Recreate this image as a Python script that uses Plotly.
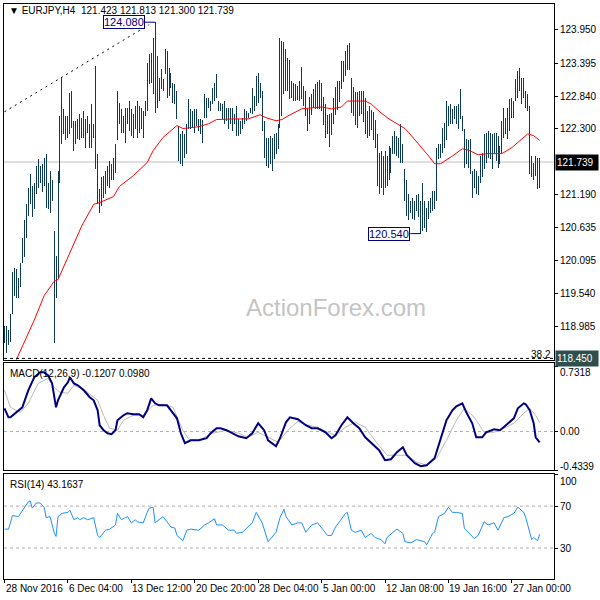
import plotly.graph_objects as go

# ---------------- data (EURJPY H4, bar index 0 = 28 Nov 2016 20:00) ----------------
bar_high = [
    118.99, 118.99, 118.92, 119.20, 119.89, 119.97, 119.95, 119.80, 120.04, 120.47,
    120.76, 121.04, 121.31, 121.54, 121.34, 121.39, 121.68, 121.79, 121.68, 121.71,
    121.81, 121.88, 121.39, 121.59, 121.43, 120.59, 120.17, 121.59, 122.51, 123.15,
    122.63, 122.51, 122.51, 122.90, 122.93, 122.43, 122.43, 122.46, 122.55, 122.48,
    122.60, 122.46, 122.51, 122.38, 122.71, 122.38, 123.35, 121.88, 121.29, 121.48,
    121.51, 121.59, 121.68, 121.76, 121.71, 121.81, 122.04, 122.93, 122.73, 122.63,
    122.51, 122.65, 122.65, 122.76, 122.63, 122.55, 122.68, 122.76, 122.68, 122.65,
    122.60, 122.76, 123.40, 123.55, 123.56, 123.82, 124.08, 123.52, 123.15, 123.30,
    123.13, 123.63, 123.60, 123.31, 123.23, 123.06, 123.05, 122.93, 122.35, 122.21,
    122.26, 122.21, 122.38, 122.80, 122.63, 122.60, 122.63, 122.63, 122.46, 122.46,
    122.45, 122.88, 122.81, 122.81, 122.76, 122.98, 123.06, 123.21, 122.76, 122.73,
    122.71, 122.76, 122.65, 122.65, 122.65, 122.65, 122.55, 122.68, 122.46, 122.43,
    122.48, 122.63, 122.60, 122.56, 122.65, 122.98, 122.85, 123.18, 123.23, 123.06,
    122.93, 122.43, 122.14, 122.14, 122.18, 122.14, 122.21, 122.23, 122.38, 123.82,
    123.77, 123.75, 123.63, 123.48, 123.45, 123.10, 123.06, 123.05, 123.01, 123.10,
    123.33, 123.01, 122.93, 122.63, 122.83, 122.88, 122.96, 123.05, 123.08, 123.11,
    123.06, 122.83, 122.71, 122.53, 122.55, 122.56, 122.81, 123.00, 123.10, 123.10,
    123.43, 123.43, 123.60, 123.70, 123.73, 123.15, 123.00, 122.91, 122.91, 122.93,
    122.93, 122.93, 122.81, 122.60, 122.68, 122.61, 122.58, 122.45, 122.21, 121.89,
    121.93, 121.84, 121.93, 121.84, 122.01, 121.98, 122.18, 122.26, 122.18, 122.14,
    122.38, 122.04, 121.63, 121.43, 121.21, 121.09, 121.13, 121.09, 121.18, 121.21,
    121.09, 121.39, 121.09, 120.97, 121.09, 121.14, 121.26, 121.26, 121.98, 122.04,
    122.04, 122.31, 122.40, 122.76, 122.68, 122.71, 122.63, 122.68, 122.68, 122.71,
    122.96, 122.51, 122.29, 122.13, 122.10, 122.13, 121.59, 121.63, 121.59, 121.51,
    121.84, 121.89, 122.21, 122.23, 122.26, 122.23, 122.21, 122.23, 122.23, 122.18,
    122.01, 122.43, 122.65, 122.48, 122.65, 122.80, 122.81, 122.76, 123.13, 123.26,
    123.31, 123.15, 123.15, 122.93, 122.88, 122.68, 121.84, 121.73, 121.84, 121.81,
    121.813,
]
bar_low = [
    118.70, 118.54, 118.67, 118.72, 119.20, 119.50, 119.47, 119.47, 119.64, 120.04,
    120.14, 120.47, 120.84, 121.04, 120.81, 120.96, 121.21, 121.31, 121.38, 121.23,
    121.34, 120.97, 120.96, 120.88, 121.09, 118.70, 119.47, 119.80, 121.39, 122.04,
    122.21, 122.10, 122.14, 122.21, 122.31, 121.93, 122.04, 122.13, 122.10, 122.14,
    122.14, 121.98, 122.23, 121.98, 121.98, 122.14, 121.63, 121.04, 120.89, 121.01,
    121.14, 121.21, 121.34, 121.31, 121.43, 121.43, 121.56, 122.10, 122.38, 122.23,
    122.23, 122.06, 122.38, 122.26, 122.18, 122.14, 122.29, 122.14, 122.23, 122.29,
    122.14, 122.51, 122.60, 123.05, 123.06, 122.88, 122.56, 122.65, 122.76, 122.96,
    122.93, 123.21, 122.81, 122.85, 122.98, 122.73, 122.71, 122.46, 121.76, 121.71,
    121.68, 121.81, 121.88, 122.29, 122.29, 122.31, 122.23, 122.35, 122.26, 122.21,
    122.06, 122.48, 122.48, 122.65, 122.60, 122.71, 122.76, 122.81, 122.60, 122.60,
    122.46, 122.38, 122.43, 122.29, 122.38, 122.26, 122.38, 122.18, 122.18, 122.21,
    122.29, 122.38, 122.43, 122.48, 122.56, 122.55, 122.60, 122.68, 122.73, 122.81,
    122.26, 121.81, 121.68, 121.64, 121.71, 121.59, 121.79, 121.88, 121.96, 122.31,
    122.51, 122.88, 122.93, 122.93, 122.80, 122.81, 122.76, 122.76, 122.78, 122.76,
    122.80, 122.68, 122.51, 122.26, 122.38, 122.53, 122.65, 122.63, 122.63, 122.63,
    122.60, 122.36, 122.14, 122.21, 121.99, 122.19, 122.38, 122.53, 122.61, 122.75,
    122.96, 123.08, 123.18, 123.28, 123.28, 122.56, 122.51, 122.36, 122.31, 122.51,
    122.55, 122.41, 122.21, 122.14, 122.18, 122.28, 122.11, 121.98, 121.34, 121.21,
    121.31, 121.18, 121.31, 121.34, 121.43, 121.56, 121.88, 121.88, 121.84, 121.81,
    121.73, 121.73, 121.09, 120.84, 120.76, 120.88, 120.79, 120.76, 120.92, 120.81,
    120.54, 120.59, 120.64, 120.56, 120.79, 120.88, 120.92, 120.96, 121.09, 121.79,
    121.81, 121.89, 121.98, 122.10, 122.35, 122.38, 122.38, 122.46, 122.38, 122.29,
    122.46, 122.26, 121.64, 121.71, 121.64, 121.54, 121.13, 121.31, 121.21, 121.18,
    121.38, 121.48, 121.63, 121.73, 121.81, 121.79, 121.63, 121.88, 121.76, 121.64,
    121.71, 121.89, 122.14, 122.21, 122.13, 122.26, 122.48, 122.48, 122.76, 122.81,
    122.93, 122.71, 122.81, 122.65, 122.60, 121.54, 121.48, 121.43, 121.51, 121.29,
    121.300,
]
last_open = 121.423
last_close = 121.739

ma_idx = [6, 12, 15, 20, 25, 27, 32, 39, 45, 48, 55, 58, 65, 72, 75, 80, 87, 90, 93, 98,
          103, 107, 115, 123, 129, 132, 137, 140, 143, 150, 160, 165, 170, 173, 182, 185, 190, 194, 198, 202,
          204, 209, 214, 217, 220, 226, 231, 234, 239, 244, 251, 256, 261, 264, 267, 270]
ma_val = [118.43, 118.87, 119.09, 119.50, 119.74, 119.77, 120.14, 120.67, 121.03, 121.06,
          121.16, 121.33, 121.51, 121.73, 121.93, 122.15, 122.35, 122.30, 122.31, 122.33,
          122.38, 122.45, 122.46, 122.46, 122.53, 122.48, 122.43, 122.45, 122.51, 122.63,
          122.66, 122.63, 122.66, 122.76, 122.76, 122.71, 122.56, 122.46, 122.38, 122.30,
          122.23, 122.04, 121.84, 121.71, 121.71, 121.84, 121.96, 121.94, 121.86, 121.88,
          121.88, 121.98, 122.13, 122.21, 122.18, 122.10]

trend_idx = [0, 73]
trend_val = [122.58, 124.04]

high_label = 124.080
high_label_idx = 76
low_label = 120.540
low_label_idx = 210
fib_level = 118.450
fib_text = "38.2"

macd_idx = [0, 2, 3, 6, 7, 9, 12, 15, 18, 20, 22, 24, 26, 27, 30, 32, 33, 35, 37, 40,
            43, 45, 47, 48, 50, 52, 54, 56, 57, 60, 62, 65, 68, 70, 72, 74, 76, 78, 82, 84,
            87, 89, 91, 94, 98, 102, 104, 107, 109, 112, 115, 118, 122, 125, 128, 131, 133, 137, 139, 142,
            144, 148, 152, 155, 158, 162, 165, 167, 170, 173, 176, 179, 182, 185, 189, 192, 195, 198, 201, 203,
            207, 210, 213, 217, 220, 223, 226, 228, 231, 233, 236, 238, 241, 243, 247, 250, 253, 257, 259, 262,
            263, 265, 267, 268, 270]
macd_val = [0.261, 0.160, 0.160, 0.216, 0.239, 0.272, 0.463, 0.609, 0.665, 0.665,
            0.631, 0.541, 0.272, 0.351, 0.497, 0.553, 0.609, 0.541, 0.519, 0.463,
            0.385, 0.351, 0.239, 0.071, 0.015, -0.019, -0.030, 0.015, 0.127, 0.183,
            0.206, 0.194, 0.194, 0.160, 0.239, 0.373, 0.317, 0.295, 0.295, 0.239,
            0.149, -0.019, -0.131, -0.098, -0.098, -0.075, -0.019, 0.037, 0.037, 0.015,
            -0.019, -0.053, -0.075, -0.019, 0.093, 0.015, -0.098, -0.165, -0.075, 0.104,
            0.160, 0.138, 0.071, 0.037, 0.037, -0.008, -0.075, -0.041, 0.071, 0.160,
            0.093, 0.037, -0.064, -0.131, -0.210, -0.322, -0.311, -0.232, -0.176, -0.266,
            -0.355, -0.389, -0.378, -0.299, -0.098, 0.127, 0.239, 0.284, 0.317, 0.216,
            0.093, -0.064, -0.064, -0.008, 0.026, 0.015, 0.071, 0.149, 0.261, 0.317,
            0.306, 0.239, 0.093, -0.064, -0.1207]
sig_idx = [0, 3, 8, 12, 17, 22, 25, 28, 32, 35, 40, 47, 50, 53, 57, 60, 65, 70, 75, 80,
           85, 90, 93, 98, 105, 112, 118, 123, 128, 133, 138, 143, 148, 153, 158, 163, 167, 172, 177, 182,
           188, 193, 198, 203, 208, 213, 218, 223, 228, 232, 237, 242, 247, 252, 257, 262, 265, 268, 270]
sig_val = [0.463, 0.272, 0.216, 0.317, 0.541, 0.597, 0.497, 0.441, 0.430, 0.519,
           0.474, 0.351, 0.183, 0.037, 0.015, 0.127, 0.183, 0.183, 0.295, 0.306,
           0.272, 0.015, -0.086, -0.098, -0.019, 0.015, -0.019, -0.064, -0.008, -0.064,
           -0.120, 0.015, 0.115, 0.071, 0.048, -0.008, -0.041, 0.048, 0.104, 0.048,
           -0.131, -0.266, -0.266, -0.266, -0.344, -0.378, -0.299, -0.098, 0.127, 0.261,
           0.160, -0.008, -0.008, 0.037, 0.093, 0.206, 0.261, 0.183, 0.0980]
macd_top, macd_bottom = 0.7318, -0.4339

rsi_idx = [0, 2, 3, 4, 7, 9, 12, 13, 14, 16, 18, 20, 21, 23, 25, 26, 27, 29, 32, 33,
           35, 37, 38, 40, 42, 45, 47, 48, 51, 53, 56, 57, 59, 61, 62, 64, 66, 67, 70, 72,
           73, 75, 76, 78, 80, 82, 84, 86, 87, 90, 92, 94, 98, 101, 103, 106, 107, 110, 113, 116,
           117, 120, 122, 125, 127, 130, 133, 135, 137, 139, 141, 142, 145, 148, 150, 152, 155, 158, 160, 162,
           163, 165, 167, 169, 172, 173, 175, 177, 180, 182, 185, 187, 190, 192, 193, 196, 198, 201, 202, 205,
           208, 212, 213, 216, 217, 219, 222, 224, 226, 228, 231, 232, 234, 237, 239, 242, 244, 247, 249, 252,
           254, 257, 259, 262, 263, 265, 266, 267, 269, 270]
rsi_val = [48, 48, 54, 61, 60, 66, 74, 75, 68, 73, 73, 69, 59, 60, 45, 41, 60, 63, 64, 66,
           57, 59, 57, 59, 57, 59, 42, 40, 47, 48, 52, 63, 57, 59, 60, 54, 57, 55, 54, 64,
           68, 69, 54, 57, 60, 55, 50, 49, 42, 37, 47, 48, 47, 52, 54, 58, 52, 52, 47, 47,
           44, 45, 49, 54, 64, 54, 36, 40, 45, 59, 67, 60, 52, 54, 54, 45, 52, 54, 49, 45,
           42, 42, 50, 55, 63, 64, 47, 45, 47, 40, 44, 40, 38, 34, 40, 45, 48, 44, 36, 35,
           38, 36, 33, 44, 45, 60, 63, 69, 64, 64, 63, 49, 45, 39, 42, 55, 52, 54, 47, 59,
           60, 63, 69, 64, 59, 45, 38, 40, 37, 43.1637]
rsi_levels = [70, 30]

price_ticks = [123.950, 123.395, 122.840, 122.300, 121.190, 120.635, 120.095, 119.540, 118.985]

date_idx = [0, 32, 64, 96, 128, 160, 192, 224, 256]
date_text = ["28 Nov 2016", "6 Dec 04:00", "13 Dec 12:00", "20 Dec 20:00", "28 Dec 04:00",
             "5 Jan 00:00", "12 Jan 08:00", "19 Jan 16:00", "27 Jan 00:00"]

# ---------------- styling / layout helpers ----------------
W, H = 600, 600
ML, MR, MT, MB = 3, 42, 3, 21
PW, PH = W - ML - MR, H - MT - MB
FONT = "Liberation Sans, Arial, sans-serif"
BAR = "#0d3a55"


def px(xp):
    return (xp - ML) / PW


def py(yp):
    return (H - MB - yp) / PH


bx, by = [], []
for i, (h, l) in enumerate(zip(bar_high, bar_low)):
    bx += [i, i, None]
    by += [l, h, None]

fig = go.Figure()
fig.add_trace(go.Scatter(x=bx, y=by, mode="lines", line=dict(color=BAR, width=1),
                         xaxis="x", yaxis="y", hoverinfo="skip"))
fig.add_trace(go.Scatter(x=ma_idx, y=ma_val, mode="lines", line=dict(color="#ff0000", width=1),
                         xaxis="x", yaxis="y"))
fig.add_trace(go.Scatter(x=trend_idx, y=trend_val, mode="lines",
                         line=dict(color="#000000", width=1, dash="2px,4px"), xaxis="x", yaxis="y"))
fig.add_trace(go.Scatter(x=sig_idx, y=sig_val, mode="lines", line=dict(color="#b8b8b8", width=1),
                         xaxis="x2", yaxis="y2"))
fig.add_trace(go.Scatter(x=macd_idx, y=macd_val, mode="lines", line=dict(color="#000080", width=2),
                         xaxis="x2", yaxis="y2"))
fig.add_trace(go.Scatter(x=rsi_idx, y=rsi_val, mode="lines", line=dict(color="#1e90ff", width=1),
                         xaxis="x3", yaxis="y3"))

xr = [-0.25, 277.25]
frame = dict(showline=True, mirror=True, linecolor="#000000", linewidth=1,
             showgrid=False, zeroline=False)
main_dom = [py(360), 1]
macd_dom = [py(470), py(363)]
rsi_dom = [0, py(474)]

fig.update_layout(
    width=W, height=H, margin=dict(l=ML, r=MR, t=MT, b=MB),
    paper_bgcolor="white", plot_bgcolor="white", showlegend=False,
    font=dict(family=FONT, size=10, color="#000000"),
    xaxis=dict(domain=[0, 1], range=xr, anchor="y", showticklabels=False, ticks="", **frame),
    xaxis2=dict(domain=[0, 1], range=xr, anchor="y2", matches="x", showticklabels=False, ticks="", **frame),
    xaxis3=dict(domain=[0, 1], range=xr, anchor="y3", matches="x", showticklabels=False,
                ticks="outside", ticklen=3, tickcolor="#000000", tickvals=date_idx, **frame),
    yaxis=dict(domain=main_dom, range=[118.417, 124.385], side="right", anchor="x",
               tickvals=price_ticks, ticktext=[f"{v:.3f}" for v in price_ticks],
               ticks="outside", ticklen=3, tickcolor="#000000",
               tickfont=dict(family=FONT, size=10, color="#000000"), **frame),
    yaxis2=dict(domain=macd_dom, range=[-0.4339, 0.7656], side="right", anchor="x2",
                showticklabels=False, ticks="outside", ticklen=3, tickcolor="#000000",
                tickvals=[macd_top, 0, macd_bottom], **frame),
    yaxis3=dict(domain=rsi_dom, range=[0.4, 100.5], side="right", anchor="x3",
                showticklabels=False, ticks="outside", ticklen=3, tickcolor="#000000",
                tickvals=[100, 70, 30, 0], **frame),
)

shapes = [
    dict(type="line", xref="paper", x0=0, x1=1, yref="y", y0=last_close, y1=last_close,
         line=dict(color="#c0c0c0", width=1), layer="below"),
    dict(type="line", xref="paper", x0=0, x1=1, yref="y", y0=fib_level, y1=fib_level,
         line=dict(color="#000000", width=1, dash="3px,3px")),
    dict(type="line", xref="paper", x0=0, x1=1, yref="y2", y0=0, y1=0,
         line=dict(color="#b0b0b0", width=1, dash="3px,3px"), layer="below"),
    dict(type="line", xref="x", x0=70.75, x1=high_label_idx, yref="y", y0=high_label, y1=high_label,
         line=dict(color="#000080", width=1)),
    dict(type="line", xref="x", x0=204.75, x1=low_label_idx, yref="y", y0=low_label, y1=low_label,
         line=dict(color="#000080", width=1)),
]
for lv in rsi_levels:
    shapes.append(dict(type="line", xref="paper", x0=0, x1=1, yref="y3", y0=lv, y1=lv,
                       line=dict(color="#b0b0b0", width=1, dash="3px,3px"), layer="below"))
fig.update_layout(shapes=shapes)

ann = []
f10 = dict(family=FONT, size=10, color="#000000")
ann.append(dict(xref="paper", yref="paper", x=px(6), y=py(10), xanchor="left", yanchor="middle",
                text=f"▼ EURJPY,H4  {last_open:.3f} {bar_high[-1]:.3f} {bar_low[-1]:.3f} {last_close:.3f}",
                showarrow=False, font=f10))
ann.append(dict(xref="paper", yref="paper", x=px(7), y=py(373), xanchor="left", yanchor="middle",
                text=f"MACD(12,26,9) {macd_val[-1]:.4f} {sig_val[-1]:.4f}", showarrow=False, font=f10))
ann.append(dict(xref="paper", yref="paper", x=px(7), y=py(484), xanchor="left", yanchor="middle",
                text=f"RSI(14) {rsi_val[-1]:.4f}", showarrow=False, font=f10))
ann.append(dict(xref="paper", yref="paper", x=px(338), y=py(307), xanchor="center", yanchor="middle",
                text="ActionForex.com", showarrow=False,
                font=dict(family=FONT, size=24, color="#c4c4c4")))
ann.append(dict(xref="paper", yref="y", x=px(557), y=fib_level, xanchor="right", yanchor="bottom",
                text=fib_text, showarrow=False, font=f10, yshift=-4))
# high / low boxes
ann.append(dict(xref="x", yref="y", x=70.75, y=high_label, xanchor="right", yanchor="middle",
                text=f"{high_label:.3f}", showarrow=False, bgcolor="white", bordercolor="#000080",
                borderwidth=1, borderpad=0, font=dict(family=FONT, size=11, color="#000080")))
ann.append(dict(xref="x", yref="y", x=204.75, y=low_label, xanchor="right", yanchor="middle",
                text=f"{low_label:.3f}", showarrow=False, bgcolor="white", bordercolor="#000080",
                borderwidth=1, borderpad=0, font=dict(family=FONT, size=11, color="#000080")))
# price boxes on the right
ann.append(dict(xref="paper", yref="y", x=1, y=last_close, xanchor="left", yanchor="middle",
                text=f"{last_close:.3f}", showarrow=False, bgcolor="#000000", width=40, height=13,
                align="left", font=dict(family=FONT, size=10, color="#ffffff"), xshift=1))
ann.append(dict(xref="paper", yref="y", x=1, y=fib_level, xanchor="left", yanchor="middle",
                text=f"{fib_level:.3f}", showarrow=False, bgcolor="#2f4f4f", width=40, height=13,
                align="left", font=dict(family=FONT, size=10, color="#ffffff"), xshift=1))
# MACD scale labels
for v, t, sh in [(macd_top, f"{macd_top:.4f}", -6), (0, "0.00", 0), (macd_bottom, f"{macd_bottom:.4f}", 4)]:
    ann.append(dict(xref="paper", yref="y2", x=1, y=v, xanchor="left", yanchor="middle", text=t,
                    showarrow=False, font=f10, xshift=4, yshift=sh))
# RSI scale labels
for v, sh in [(100, -7), (70, 0), (30, 0), (0, 7)]:
    ann.append(dict(xref="paper", yref="y3", x=1, y=v, xanchor="left", yanchor="middle", text=str(v),
                    showarrow=False, font=f10, xshift=4, yshift=sh))
# date labels
for d, t in zip(date_idx, date_text):
    ann.append(dict(xref="x3", yref="paper", x=d, y=py(589), xanchor="left", yanchor="middle", text=t,
                    showarrow=False, font=f10, xshift=-1))
fig.update_layout(annotations=ann)

post = (
    "document.body.style.margin='0';document.body.style.overflow='hidden';"
    "var tr=document.querySelectorAll('.scatterlayer .trace');"
    "if(tr.length){tr[0].querySelectorAll('path').forEach(function(p){p.style.shapeRendering='crispEdges';});}"
)
fig.write_html("out.html", config={"displayModeBar": False}, post_script=post)
